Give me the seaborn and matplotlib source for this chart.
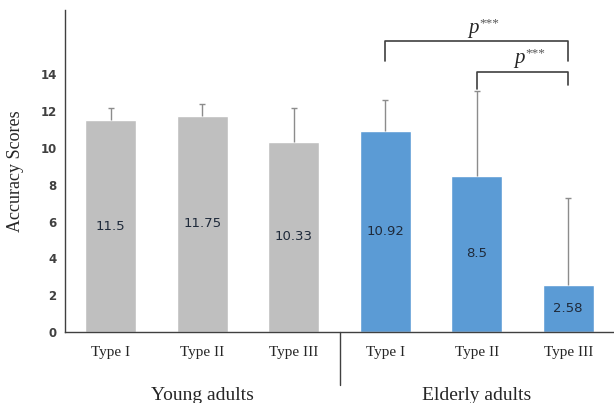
import matplotlib
matplotlib.use("Agg")
import matplotlib.pyplot as plt
import pandas as pd
import seaborn as sns

groups = ["Young adults", "Young adults", "Young adults",
          "Elderly adults", "Elderly adults", "Elderly adults"]
types = ["Type I", "Type II", "Type III", "Type I", "Type II", "Type III"]
scores = [11.5, 11.75, 10.33, 10.92, 8.5, 2.58]
errors = [0.7, 0.65, 1.87, 1.68, 4.6, 4.72]
colors = ["#BFBFBF", "#BFBFBF", "#BFBFBF", "#5B9BD5", "#5B9BD5", "#5B9BD5"]

df = pd.DataFrame({"group": groups, "type": types, "score": scores})
df["cond"] = df["group"] + " " + df["type"]

sns.set_style("white")
plt.rcParams["font.family"] = ["Liberation Serif", "DejaVu Serif"]

fig = plt.figure(figsize=(6.14, 4.03), dpi=100)
ax = fig.add_axes([65 / 614, 71 / 403, 1 - 65 / 614, 322 / 403])

sns.barplot(data=df, x="cond", y="score", hue="cond", palette=colors,
            legend=False, width=0.56, saturation=1, ax=ax)

# upper-only error bars
x = list(range(len(scores)))
tops = [s + e for s, e in zip(scores, errors)]
ax.vlines(x, scores, tops, color="#8C8C8C", lw=1)
ax.plot(x, tops, ls="none", marker="_", ms=5, mew=1, color="#8C8C8C")

# value labels in the middle of the bars
for i, v in enumerate(scores):
    ax.text(i, v / 2, f"{v:g}", ha="center", va="center", fontsize=9.5,
            family="DejaVu Sans", color="#1F2A3A")

ax.set_xlim(-0.5, 5.5)
ax.set_ylim(0, 17.5)
ax.set_yticks(range(0, 15, 2))
ax.set_yticklabels([str(t) for t in range(0, 15, 2)], family="DejaVu Sans",
                   fontweight="bold", fontsize=8.5, color="#404040")
ax.set_xticks(x)
ax.set_xticklabels(types, fontsize=11)
ax.tick_params(axis="both", length=0, pad=6)
ax.tick_params(axis="x", pad=10)
ax.set_xlabel("")
ax.set_ylabel("Accuracy Scores", fontsize=13, labelpad=12)

for side in ["top", "right"]:
    ax.spines[side].set_visible(False)
for side in ["left", "bottom"]:
    ax.spines[side].set_color("#404040")
    ax.spines[side].set_linewidth(1)

# group separator and group names
ax.plot([2.5, 2.5], [0, -0.165], transform=ax.get_xaxis_transform(),
        color="#404040", lw=1, clip_on=False)
ax.text(1, -0.17, "Young adults", transform=ax.get_xaxis_transform(),
        ha="center", va="top", fontsize=14)
ax.text(4, -0.17, "Elderly adults", transform=ax.get_xaxis_transform(),
        ha="center", va="top", fontsize=14)

# significance brackets
ax.plot([3, 3, 5, 5], [14.75, 15.8, 15.8, 14.75], color="#404040", lw=1.2)
ax.plot([4, 4, 5, 5], [13.2, 14.15, 14.15, 13.4], color="#404040", lw=1.2)
for xc, yb in [(4, 16.0), (4.5, 14.35)]:
    ax.text(xc + 0.02, yb, "p", ha="right", va="bottom", fontsize=15,
            style="italic")
    ax.text(xc + 0.03, yb + 0.45, "***", ha="left", va="bottom", fontsize=9.5,
            color="#555555")

fig.savefig("out.png", dpi=100)
